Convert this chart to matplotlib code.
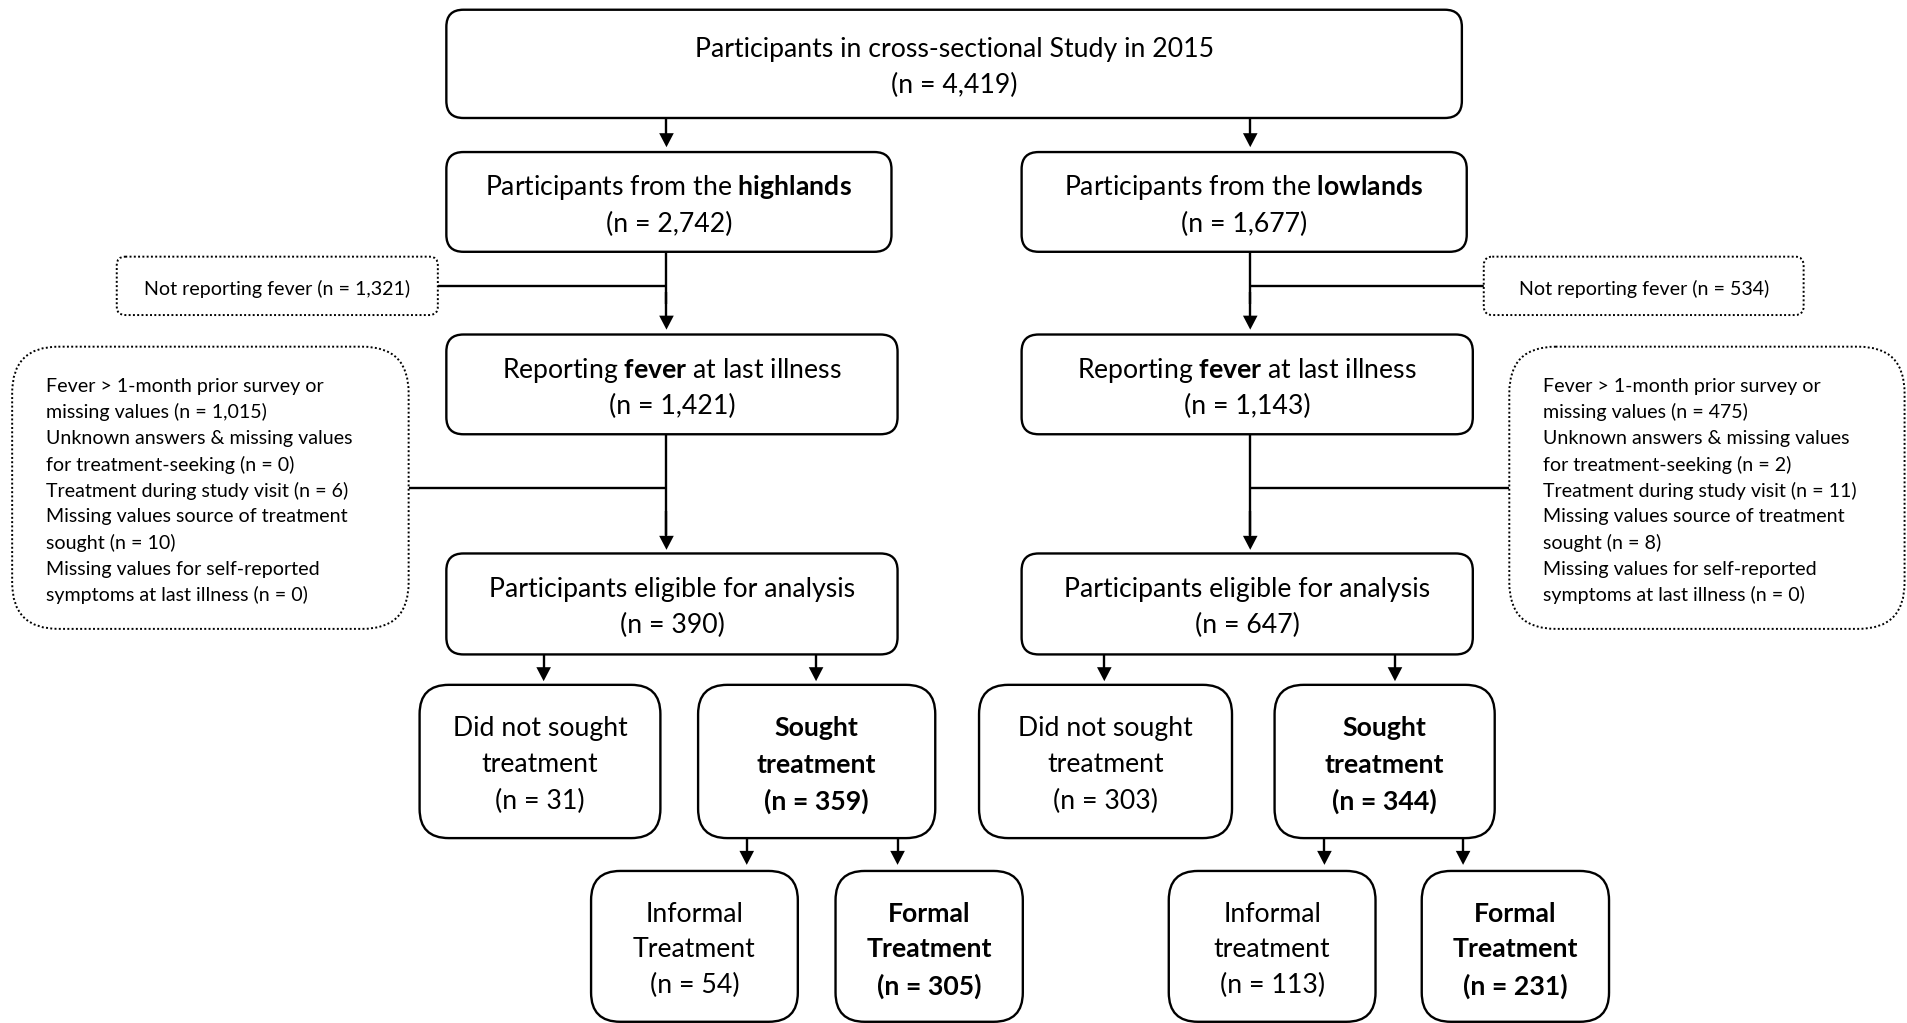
import matplotlib
matplotlib.use("Agg")
import matplotlib.pyplot as plt
from matplotlib.patches import FancyBboxPatch

FONT = "Lato"
plt.rcParams['font.family'] = [FONT, 'DejaVu Sans']
plt.rcParams['mathtext.fontset'] = 'custom'
plt.rcParams['mathtext.rm'] = FONT
plt.rcParams['mathtext.bf'] = FONT + ':bold'

# ---------------- data ----------------
total_n = "4,419"
region_names = ["highlands", "lowlands"]
region_n = ["2,742", "1,677"]
not_fever_n = ["1,321", "534"]
fever_n = ["1,421", "1,143"]
excl_month_n = ["1,015", "475"]
excl_unknown_n = ["0", "2"]
excl_visit_n = ["6", "11"]
excl_source_n = ["10", "8"]
excl_symptoms_n = ["0", "0"]
eligible_n = ["390", "647"]
not_sought_n = ["31", "303"]
sought_n = ["359", "344"]
informal_n = ["54", "113"]
formal_n = ["305", "231"]
informal_word = ["Treatment", "treatment"]

# ---------------- layout (overview units, 1568 x 841) ----------------
W, H = 1568, 841
fig = plt.figure(figsize=(19.07, 10.23), dpi=100)
ax = fig.add_axes([0, 0, 1, 1])
ax.set_xlim(0, W)
ax.set_ylim(H, 0)
ax.axis('off')

LW = 1.7
FS = 19.2
FS_S = 14.1
DY = 1.5

def box(x0, x1, y0, y1, r=14, dotted=False):
    p = FancyBboxPatch((x0, y0), x1 - x0, y1 - y0,
                       boxstyle=f"round,pad=0,rounding_size={r}",
                       fc='white', ec='black',
                       lw=1.4 if dotted else LW,
                       ls=(0, (1, 1.2)) if dotted else '-',
                       zorder=3)
    ax.add_patch(p)

def text(x, y, s, fs=FS, weight='normal', ha='center'):
    ax.text(x, y + DY, s, fontsize=fs, ha=ha, va='center', fontweight=weight, zorder=4)

def arrow(x, y0, y1, hw=12, hl=11.5):
    ax.plot([x, x], [y0, y1 - hl + 1], color='black', lw=LW, solid_capstyle='butt', zorder=2)
    ax.fill([x - hw / 2, x + hw / 2, x], [y1 - hl, y1 - hl, y1],
            color='black', zorder=2, lw=0)

def hline(x0, x1, y):
    ax.plot([x0, x1], [y, y], color='black', lw=LW, solid_capstyle='butt', zorder=2)

def vline(x, y0, y1):
    ax.plot([x, x], [y0, y1], color='black', lw=LW, solid_capstyle='butt', zorder=2)

# top box
box(367, 1202, 8, 97, r=14)
text(785, 39, "Participants in cross-sectional Study in 2015")
text(785, 69, f"(n = {total_n})")

cols = [dict(ax_=548, bx0=367, bx1=733, fx1=738,
             nr=(96, 360), ex=(10, 336), ex_txt=38,
             ch=(447, 671), ns=(345, 543), so=(574, 769),
             ch2=(614, 738), inf=(486, 656), frm=(687, 841)),
        dict(ax_=1028, bx0=840, bx1=1206, fx1=1211,
             nr=(1220, 1483), ex=(1241, 1566), ex_txt=1269,
             ch=(908, 1147), ns=(805, 1013), so=(1048, 1229),
             ch2=(1089, 1203), inf=(961, 1131), frm=(1169, 1323))]

for i, L in enumerate(cols):
    a = L['ax_']
    arrow(a, 97, 121)
    # region box
    box(L['bx0'], L['bx1'], 125, 207)
    cx = (L['bx0'] + L['bx1']) / 2
    text(cx, 153, r"Participants from the $\mathbf{" + region_names[i] + "}$")
    text(cx, 183, f"(n = {region_n[i]})")
    # not reporting fever
    vline(a, 207, 250)
    arrow(a, 240, 271)
    nr0, nr1 = L['nr']
    if i == 0:
        hline(nr1, a, 235)
    else:
        hline(a, nr0, 235)
    box(nr0, nr1, 211, 259, r=7, dotted=True)
    text((nr0 + nr1) / 2, 236, f"Not reporting fever (n = {not_fever_n[i]})", fs=FS_S)
    # fever box
    box(L['bx0'], L['fx1'], 275, 357)
    cx = (L['bx0'] + L['fx1']) / 2
    text(cx, 303, r"Reporting $\mathbf{fever}$ at last illness")
    text(cx, 333, f"(n = {fever_n[i]})")
    # exclusions
    vline(a, 357, 440)
    arrow(a, 420, 452)
    e0, e1 = L['ex']
    if i == 0:
        hline(e1, a, 401)
    else:
        hline(a, e0, 401)
    box(e0, e1, 285, 517, r=38, dotted=True)
    lines = ["Fever > 1-month prior survey or",
             f"missing values (n = {excl_month_n[i]})",
             "Unknown answers & missing values",
             f"for treatment-seeking (n = {excl_unknown_n[i]})",
             f"Treatment during study visit (n = {excl_visit_n[i]})",
             "Missing values source of treatment",
             f"sought (n = {excl_source_n[i]})",
             "Missing values for self-reported",
             f"symptoms at last illness (n = {excl_symptoms_n[i]})"]
    for k, s in enumerate(lines):
        text(L['ex_txt'], 316 + k * 21.5, s, fs=FS_S, ha='left')
    # eligible
    box(L['bx0'], L['fx1'], 455, 538)
    text(cx, 483, "Participants eligible for analysis")
    text(cx, 513, f"(n = {eligible_n[i]})")
    # children
    for x in L['ch']:
        arrow(x, 538, 560)
    n0, n1 = L['ns']
    box(n0, n1, 563, 689, r=24)
    nc = (n0 + n1) / 2
    text(nc, 597, "Did not sought")
    text(nc, 627, "treatment")
    text(nc, 657, f"(n = {not_sought_n[i]})")
    s0, s1 = L['so']
    box(s0, s1, 563, 689, r=24)
    sc = (s0 + s1) / 2
    text(sc, 597, "Sought", weight='bold')
    text(sc, 627, "treatment", weight='bold')
    text(sc, 657, f"(n = {sought_n[i]})", weight='bold')
    for x in L['ch2']:
        arrow(x, 689, 711)
    i0, i1 = L['inf']
    box(i0, i1, 716, 840, r=24)
    ic = (i0 + i1) / 2
    text(ic, 750, "Informal")
    text(ic, 779, informal_word[i])
    text(ic, 809, f"(n = {informal_n[i]})")
    f0, f1 = L['frm']
    box(f0, f1, 716, 840, r=24)
    fc = (f0 + f1) / 2
    text(fc, 750, "Formal", weight='bold')
    text(fc, 779, "Treatment", weight='bold')
    text(fc, 809, f"(n = {formal_n[i]})", weight='bold')

fig.savefig("out.png", dpi=100, facecolor='white')
